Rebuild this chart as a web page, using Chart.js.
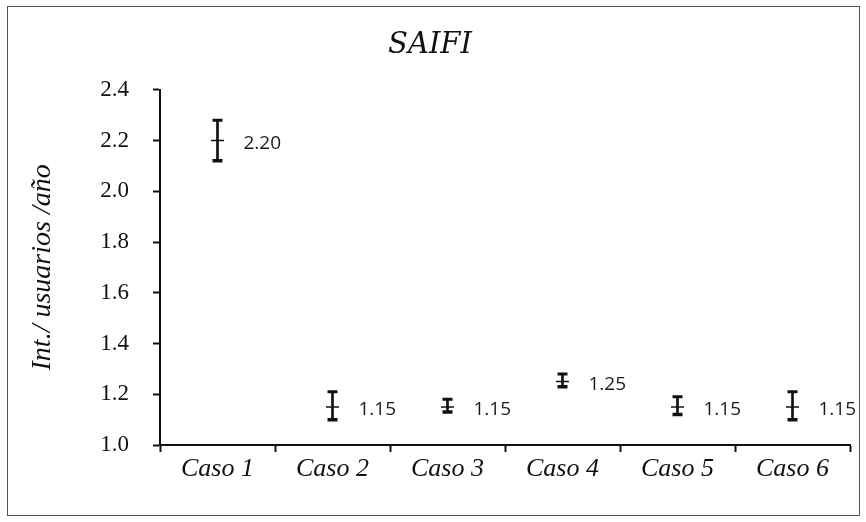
<!DOCTYPE html>
<html>
<head>
<meta charset="utf-8">
<script src="https://cdn.jsdelivr.net/npm/chart.js@4/dist/chart.umd.min.js"></script>
<style>
  body { margin: 0; background: #fff; }
  #wrap { position: relative; width: 866px; height: 522px; }
</style>
</head>
<body>
<div id="wrap"><canvas id="saifi-chart" width="866" height="522"></canvas></div>
<script>
// Data
const casos = ["Caso 1", "Caso 2", "Caso 3", "Caso 4", "Caso 5", "Caso 6"];
const saifiMedia = [2.20, 1.15, 1.15, 1.25, 1.15, 1.15];
const saifiMin = [2.12, 1.10, 1.13, 1.23, 1.12, 1.10];
const saifiMax = [2.28, 1.21, 1.18, 1.28, 1.19, 1.21];
const yTicks = [1.0, 1.2, 1.4, 1.6, 1.8, 2.0, 2.2, 2.4];

const serif = "Liberation Serif";

// value labels to the right of each error bar
const valueLabels = {
  id: "valueLabels",
  afterDatasetsDraw(chart) {
    const ctx = chart.ctx;
    const meta = chart.getDatasetMeta(3);
    ctx.save();
    ctx.font = "19px 'Open Sans', sans-serif";
    ctx.fillStyle = "#1a1a1a";
    ctx.textAlign = "left";
    ctx.textBaseline = "middle";
    meta.data.forEach((pt, i) => {
      ctx.fillText(saifiMedia[i].toFixed(2), pt.x + 26, pt.y + 3);
    });
    ctx.restore();
  },
};

// thin frame around the whole figure
const frame = {
  id: "frame",
  beforeDraw(chart) {
    const ctx = chart.ctx;
    ctx.save();
    ctx.strokeStyle = "#555";
    ctx.lineWidth = 1;
    ctx.strokeRect(7.5, 6.5, 852, 509);
    ctx.restore();
  },
};

const ctx = document.getElementById("saifi-chart").getContext("2d");

new Chart(ctx, {
  type: "bar",
  data: {
    labels: casos,
    datasets: [
      {
        // vertical stem of the error bar
        data: casos.map((c, i) => [saifiMin[i], saifiMax[i]]),
        backgroundColor: "#111",
        barThickness: 2,
        grouped: false,
      },
      {
        type: "line",
        data: saifiMin,
        showLine: false,
        pointStyle: "line",
        pointRadius: 5,
        pointBorderWidth: 3.5,
        pointBorderColor: "#111",
      },
      {
        type: "line",
        data: saifiMax,
        showLine: false,
        pointStyle: "line",
        pointRadius: 5,
        pointBorderWidth: 3,
        pointBorderColor: "#111",
      },
      {
        type: "line",
        data: saifiMedia,
        showLine: false,
        pointStyle: "line",
        pointRadius: 6.5,
        pointBorderWidth: 1.5,
        pointBorderColor: "#111",
      },
    ],
  },
  options: {
    responsive: false,
    animation: false,
    events: [],
    layout: { padding: { left: 10, right: 16, top: 0, bottom: 0 } },
    scales: {
      x: {
        offset: true,
        grid: {
          offset: true,
          drawOnChartArea: false,
          tickLength: 7,
          tickColor: "#111",
          tickWidth: 2,
        },
        border: { color: "#111", width: 2 },
        ticks: {
          color: "#111",
          padding: 2,
          font: { family: serif, style: "italic", size: 26 },
        },
        afterFit(scale) {
          scale.height = 522 - 445;
        },
      },
      y: {
        min: 1.0,
        max: 2.4,
        afterBuildTicks(scale) {
          scale.ticks = yTicks.map((v) => ({ value: v }));
        },
        grid: {
          drawOnChartArea: false,
          tickLength: 7,
          tickColor: "#111",
          tickWidth: 2,
        },
        border: { color: "#111", width: 2 },
        ticks: {
          color: "#111",
          padding: 24,
          font: { family: serif, size: 23 },
          callback: (v) => Number(v).toFixed(1),
        },
        title: {
          display: true,
          text: "Int./ usuarios /año",
          color: "#111",
          padding: { top: 16, bottom: 0 },
          font: { family: serif, style: "italic", size: 28 },
        },
        afterFit(scale) {
          scale.width = 150;
        },
      },
    },
    plugins: {
      legend: { display: false },
      tooltip: { enabled: false },
      title: {
        display: true,
        text: "SAIFI",
        color: "#111",
        padding: { top: 28, bottom: 27 },
        font: { family: "DejaVu Serif", style: "italic", size: 29, weight: "normal" },
      },
    },
  },
  plugins: [valueLabels, frame],
});
</script>
</body>
</html>
